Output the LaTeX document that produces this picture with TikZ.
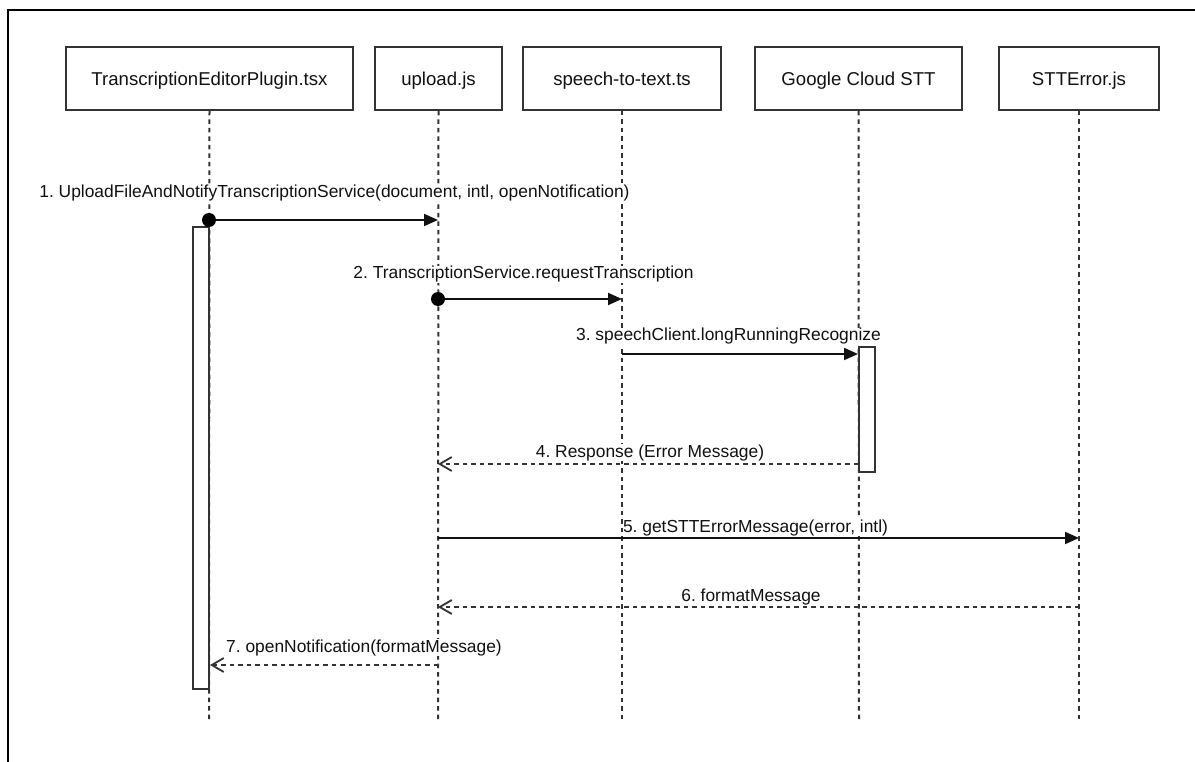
\documentclass[tikz,border=0pt]{standalone}
\usepackage{fontspec}
\setmainfont{Liberation Sans}
\usetikzlibrary{arrows.meta}
\definecolor{linegray}{HTML}{333333}
\definecolor{inkblack}{HTML}{111111}
\newcommand{\boxfont}{\fontsize{18.6}{22}\selectfont}
\newcommand{\msgfont}{\fontsize{17.4}{21}\selectfont}
\frenchspacing
\begin{document}
\begin{tikzpicture}[x=1pt,y=-1pt,
  participant/.style={draw=linegray,line width=2pt,fill=white,minimum height=63pt,
    inner sep=0pt,text height=13.3pt,text depth=0pt,font=\boxfont,text=inkblack},
  lifeline/.style={draw=linegray,line width=2pt,dash pattern=on 4.5pt off 4pt},
  actbar/.style={draw=linegray,line width=2pt,fill=white,minimum width=16pt,inner sep=0pt},
  callmsg/.style={draw=inkblack,line width=2pt,-{Triangle[length=14pt,width=12pt]}},
  retmsg/.style={draw=linegray,line width=1.8pt,dash pattern=on 4.5pt off 4pt,
    -{Straight Barb[length=12pt,width=14pt,line width=1.8pt]}},
  msglbl/.style={font=\msgfont,text=inkblack,fill=white,inner sep=0.5pt,anchor=base},
  startdot/.style={circle,fill=black,minimum size=14pt,inner sep=0pt}
]
\useasboundingbox (0,0) rectangle (1195,762);
\fill[white] (0,0) rectangle (1195,762);

% outer frame (only its top and left edges lie inside the page)
\draw[black,line width=1.5pt] (8,762) -- (8,10) -- (1195,10);

% participants
\node[participant,minimum width=287pt] (tep) at (209.5,78.5) {TranscriptionEditorPlugin.tsx};
\node[participant,minimum width=127pt] (upl) at (438.5,78.5) {upload.js};
\node[participant,minimum width=198pt] (stt) at (622,78.5) {speech-to-text.ts};
\node[participant,minimum width=207pt] (gcs) at (858.5,78.5) {Google Cloud STT};
\node[participant,minimum width=160pt] (err) at (1079,78.5) {STTError.js};

% lifeline ends
\coordinate (tepEnd) at (209,720);
\coordinate (uplEnd) at (438,720);
\coordinate (sttEnd) at (622,720);
\coordinate (gcsEnd) at (859,720);
\coordinate (errEnd) at (1079,720);

\draw[lifeline] (tep.south) -- (tepEnd);
\draw[lifeline] (upl.south) -- (uplEnd);
\draw[lifeline] (stt.south) -- (sttEnd);
\draw[lifeline] (gcs.south) -- (gcsEnd);
\draw[lifeline] (err.south) -- (errEnd);

% activation bars
\node[actbar,minimum height=462pt] (tepAct) at (201,458) {};
\node[actbar,minimum height=125pt] (gcsAct) at (867,409.5) {};

% message anchor points on the lifelines
\coordinate (m1s) at (209,220);  \coordinate (m1e) at (438,220);
\coordinate (m2s) at (438,299);  \coordinate (m2e) at (622,299);
\coordinate (m3s) at (622,354);
\coordinate (m4e) at (438,464);
\coordinate (m5s) at (438,538);  \coordinate (m5e) at (1079,538);
\coordinate (m6s) at (1079,607); \coordinate (m6e) at (438,607);
\coordinate (m7s) at (438,665);

% 1
\node[msglbl] (l1) at (334.5,197.5) {1. UploadFileAndNotifyTranscriptionService(document, intl, openNotification)};
\draw[callmsg] (m1s) -- (m1e);
\node[startdot] (d1) at (m1s) {};
% 2
\node[msglbl] (l2) at (523.5,279) {2. TranscriptionService.requestTranscription};
\draw[callmsg] (m2s) -- (m2e);
\node[startdot] (d2) at (m2s) {};
% 3
\node[msglbl] (l3) at (728.5,341) {3. speechClient.longRunningRecognize};
\draw[callmsg] (m3s) -- (m3s -| gcsAct.west);
% 4
\node[msglbl] (l4) at (650,457) {4. Response (Error Message)};
\draw[retmsg] (gcsAct.west |- m4e) -- (m4e);
% 5
\node[msglbl] (l5) at (755.5,532) {5. getSTTErrorMessage(error, intl)};
\draw[callmsg] (m5s) -- (m5e);
% 6
\node[msglbl] (l6) at (751,601) {6. formatMessage};
\draw[retmsg] (m6s) -- (m6e);
% 7
\node[msglbl] (l7) at (364,652) {7. openNotification(formatMessage)};
\draw[retmsg] (m7s) -- (m7s -| tepAct.east);
\end{tikzpicture}
\end{document}
